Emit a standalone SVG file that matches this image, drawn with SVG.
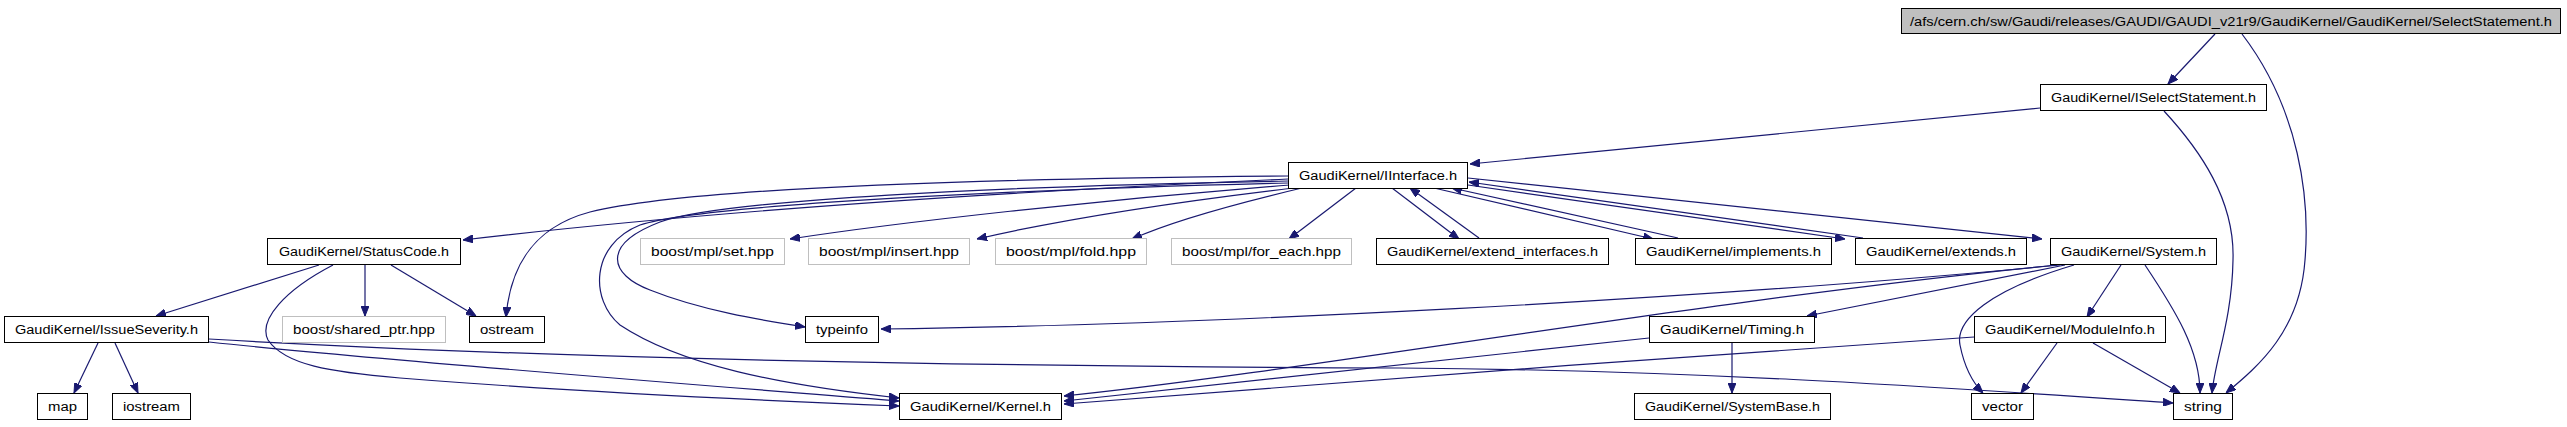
<svg xmlns="http://www.w3.org/2000/svg" width="2567" height="427" viewBox="0 0 2567 427">
<style>
.n rect{fill:#fff;stroke:#000;stroke-width:1}
.g rect{fill:#fff;stroke:#bfbfbf;stroke-width:1}
.r rect{fill:#bfbfbf;stroke:#000;stroke-width:1}
text{font-family:"Liberation Sans",Arial,sans-serif;font-size:12.5px;fill:#000;text-anchor:middle}
#edges path{fill:none;stroke:#191970;stroke-width:1.2;marker-end:url(#a)}
</style>
<defs>
<marker id="a" viewBox="0 0 10 8" refX="10" refY="4" markerWidth="10" markerHeight="8" markerUnits="userSpaceOnUse" orient="auto">
<path d="M0,0 L10,4 L0,8 z" fill="#191970" stroke="#191970" stroke-width="1"/>
</marker>
</defs>
<rect width="2567" height="427" fill="#fff"/>
<g id="edges">
<path d="M2215,34 L2168,84"/>
<path d="M2242,34 C2300,110 2310,200 2305,260 C2300,330 2260,365 2226,393"/>
<path d="M2040,108 L1470,164"/>
<path d="M2164,111 C2200,150 2235,200 2233,260 C2232,320 2215,360 2212,393"/>
<path d="M1288,179 C1000,192 700,212 463,240"/>
<path d="M1288,176 C1050,178 700,185 590,212 C530,228 510,270 506,317"/>
<path d="M1288,181 C1000,186 720,200 660,222 C600,245 610,275 650,290 C700,310 760,320 805,327"/>
<path d="M1288,183 C1000,190 700,205 640,225 C590,245 590,300 620,325 C680,365 780,385 899,398"/>
<path d="M1290,185 C1100,200 900,222 790,239"/>
<path d="M1293,188 C1150,205 1050,222 977,239"/>
<path d="M1302,188 C1230,205 1170,222 1132,239"/>
<path d="M1356,188 L1289,239"/>
<path d="M1392,188 L1459,239"/>
<path d="M1479,238 L1410,188"/>
<path d="M1434,188 L1653,239"/>
<path d="M1678,238 L1452,188"/>
<path d="M1468,185 L1845,239"/>
<path d="M1863,238 L1469,182"/>
<path d="M1468,178 L2042,239"/>
<path d="M319,265 L156,316"/>
<path d="M365,265 L365,316"/>
<path d="M391,265 L476,316"/>
<path d="M333,265 C285,290 258,320 268,340 C285,365 330,372 400,378 C550,390 750,400 899,406"/>
<path d="M98,343 L74,393"/>
<path d="M115,343 L138,393"/>
<path d="M209,339 C500,356 900,366 1400,368 C1700,370 1950,388 2173,403"/>
<path d="M209,342 C400,362 700,385 899,401"/>
<path d="M2060,265 C1700,300 1200,325 881,329"/>
<path d="M2057,265 C1700,300 1300,372 1064,396"/>
<path d="M2065,265 L1807,316"/>
<path d="M2121,265 L2087,317"/>
<path d="M2074,265 C1990,290 1955,320 1960,345 C1965,370 1975,385 1983,393"/>
<path d="M2145,265 C2175,310 2200,350 2200,393"/>
<path d="M1732,343 L1732,393"/>
<path d="M1649,338 L1064,401"/>
<path d="M2057,343 L2021,393"/>
<path d="M2093,343 L2180,393"/>
<path d="M1974,337 C1700,355 1300,385 1064,404"/>
</g>
<g id="n_top" class="r"><rect x="1901.5" y="8.5" width="659" height="25"/><text x="2231" y="26" textLength="642" lengthAdjust="spacingAndGlyphs">/afs/cern.ch/sw/Gaudi/releases/GAUDI/GAUDI_v21r9/GaudiKernel/GaudiKernel/SelectStatement.h</text></g>
<g id="n_iselect" class="n"><rect x="2040.5" y="84.5" width="226" height="26"/><text x="2153.5" y="102" textLength="205" lengthAdjust="spacingAndGlyphs">GaudiKernel/ISelectStatement.h</text></g>
<g id="n_iinterface" class="n"><rect x="1288.5" y="162.5" width="179" height="26"/><text x="1378" y="180" textLength="158" lengthAdjust="spacingAndGlyphs">GaudiKernel/IInterface.h</text></g>
<g id="n_statuscode" class="n"><rect x="267.5" y="238.5" width="193" height="26"/><text x="364" y="256" textLength="170" lengthAdjust="spacingAndGlyphs">GaudiKernel/StatusCode.h</text></g>
<g id="n_set" class="g"><rect x="640.5" y="238.5" width="144" height="26"/><text x="712.5" y="256" textLength="123" lengthAdjust="spacingAndGlyphs">boost/mpl/set.hpp</text></g>
<g id="n_insert" class="g"><rect x="808.5" y="238.5" width="161" height="26"/><text x="889" y="256" textLength="140" lengthAdjust="spacingAndGlyphs">boost/mpl/insert.hpp</text></g>
<g id="n_fold" class="g"><rect x="995.5" y="238.5" width="151" height="26"/><text x="1071" y="256" textLength="130" lengthAdjust="spacingAndGlyphs">boost/mpl/fold.hpp</text></g>
<g id="n_foreach" class="g"><rect x="1171.5" y="238.5" width="180" height="26"/><text x="1261.5" y="256" textLength="159" lengthAdjust="spacingAndGlyphs">boost/mpl/for_each.hpp</text></g>
<g id="n_extint" class="n"><rect x="1376.5" y="238.5" width="232" height="26"/><text x="1492.5" y="256" textLength="211" lengthAdjust="spacingAndGlyphs">GaudiKernel/extend_interfaces.h</text></g>
<g id="n_implements" class="n"><rect x="1635.5" y="238.5" width="196" height="26"/><text x="1733.5" y="256" textLength="175" lengthAdjust="spacingAndGlyphs">GaudiKernel/implements.h</text></g>
<g id="n_extends" class="n"><rect x="1855.5" y="238.5" width="171" height="26"/><text x="1941" y="256" textLength="150" lengthAdjust="spacingAndGlyphs">GaudiKernel/extends.h</text></g>
<g id="n_system" class="n"><rect x="2050.5" y="238.5" width="166" height="26"/><text x="2133.5" y="256" textLength="145" lengthAdjust="spacingAndGlyphs">GaudiKernel/System.h</text></g>
<g id="n_issue" class="n"><rect x="4.5" y="316.5" width="204" height="26"/><text x="106.5" y="334" textLength="183" lengthAdjust="spacingAndGlyphs">GaudiKernel/IssueSeverity.h</text></g>
<g id="n_shared" class="g"><rect x="282.5" y="316.5" width="163" height="26"/><text x="364" y="334" textLength="142" lengthAdjust="spacingAndGlyphs">boost/shared_ptr.hpp</text></g>
<g id="n_ostream" class="n"><rect x="469.5" y="316.5" width="75" height="26"/><text x="507" y="334" textLength="54" lengthAdjust="spacingAndGlyphs">ostream</text></g>
<g id="n_typeinfo" class="n"><rect x="805.5" y="316.5" width="73" height="26"/><text x="842" y="334" textLength="52" lengthAdjust="spacingAndGlyphs">typeinfo</text></g>
<g id="n_timing" class="n"><rect x="1649.5" y="316.5" width="165" height="26"/><text x="1732" y="334" textLength="144" lengthAdjust="spacingAndGlyphs">GaudiKernel/Timing.h</text></g>
<g id="n_moduleinfo" class="n"><rect x="1974.5" y="316.5" width="191" height="26"/><text x="2070" y="334" textLength="170" lengthAdjust="spacingAndGlyphs">GaudiKernel/ModuleInfo.h</text></g>
<g id="n_map" class="n"><rect x="37.5" y="393.5" width="50" height="26"/><text x="62.5" y="411" textLength="29" lengthAdjust="spacingAndGlyphs">map</text></g>
<g id="n_iostream" class="n"><rect x="112.5" y="393.5" width="78" height="26"/><text x="151.5" y="411" textLength="57" lengthAdjust="spacingAndGlyphs">iostream</text></g>
<g id="n_kernel" class="n"><rect x="899.5" y="393.5" width="162" height="26"/><text x="980.5" y="411" textLength="141" lengthAdjust="spacingAndGlyphs">GaudiKernel/Kernel.h</text></g>
<g id="n_systembase" class="n"><rect x="1634.5" y="393.5" width="196" height="26"/><text x="1732.5" y="411" textLength="175" lengthAdjust="spacingAndGlyphs">GaudiKernel/SystemBase.h</text></g>
<g id="n_vector" class="n"><rect x="1971.5" y="393.5" width="62" height="26"/><text x="2002.5" y="411" textLength="41" lengthAdjust="spacingAndGlyphs">vector</text></g>
<g id="n_string" class="n"><rect x="2173.5" y="393.5" width="59" height="26"/><text x="2203" y="411" textLength="38" lengthAdjust="spacingAndGlyphs">string</text></g>
</svg>
